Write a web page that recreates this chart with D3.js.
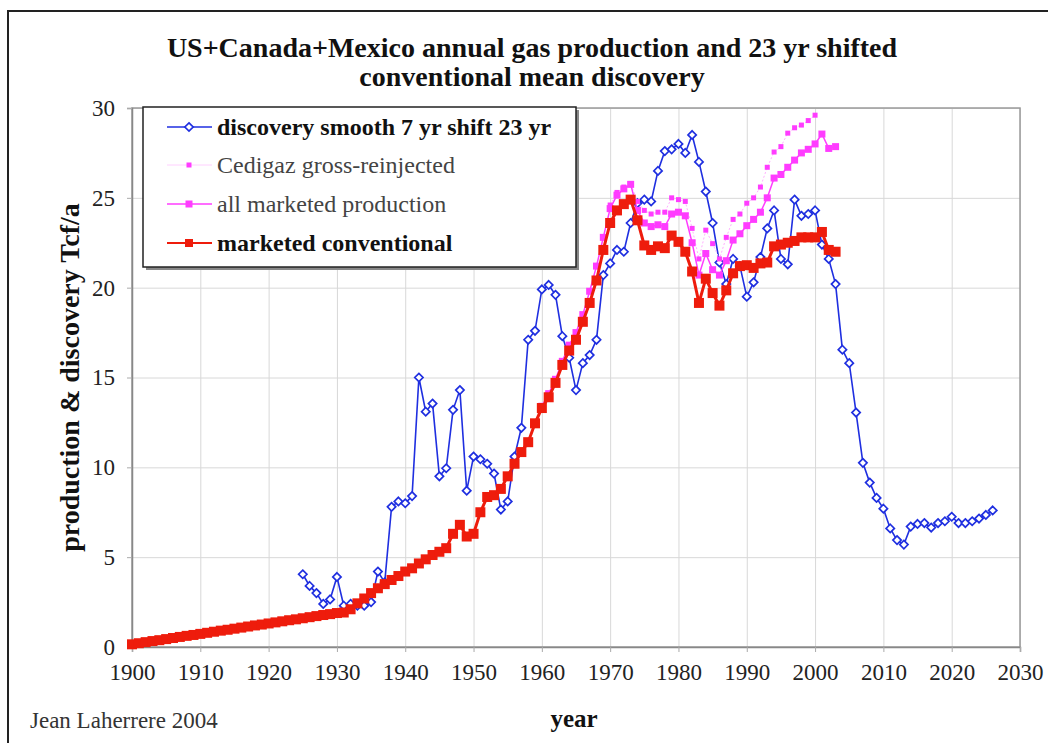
<!DOCTYPE html>
<html><head><meta charset="utf-8">
<script src="https://cdn.jsdelivr.net/npm/d3@7"></script>
<style>
html,body{margin:0;padding:0;background:#fff;}
svg{display:block;font-family:"Liberation Serif","Times New Roman",serif;}
</style></head>
<body><svg id="c" width="1048" height="743"></svg>
<script>
// ---------- data ----------
const xTicks = [1900,1910,1920,1930,1940,1950,1960,1970,1980,1990,2000,2010,2020,2030];
const yTicks = [0,5,10,15,20,25,30];

const discoveryYears = d3.range(1925, 2027);
const discovery = [4.05,3.4,3.0,2.4,2.65,3.9,2.3,2.4,2.3,2.3,2.5,4.2,3.6,7.8,8.1,8.0,8.4,15.0,13.1,13.55,
  9.5,9.95,13.2,14.3,8.7,10.6,10.45,10.2,9.65,7.65,8.1,10.6,12.2,17.1,17.6,19.9,20.15,19.6,17.3,16.1,
  14.3,15.8,16.25,17.1,20.7,21.35,22.1,22.0,23.6,24.7,24.9,24.8,26.5,27.6,27.7,28.0,27.5,28.5,27.0,25.35,
  23.6,21.4,20.2,21.6,21.2,19.5,20.3,21.7,23.3,24.3,21.6,21.3,24.9,24.0,24.1,24.3,22.4,21.6,20.2,16.55,
  15.8,13.05,10.25,9.15,8.3,7.7,6.6,5.95,5.7,6.7,6.85,6.9,6.65,6.9,7.0,7.25,6.9,6.9,7.0,7.15,
  7.35,7.6];

const cedigazYears = d3.range(1970, 2001);
const cedigaz = [24.6,25.3,25.6,25.8,24.8,24.3,24.1,24.2,24.2,25.0,24.9,24.8,23.3,21.6,23.2,22.45,21.6,22.8,23.8,24.1,
  24.7,25.0,25.6,26.7,27.55,27.85,28.6,28.9,29.05,29.3,29.6];

const marketedYears = d3.range(1960, 2004);
const marketed = [13.4,14.1,14.9,15.9,16.8,17.5,18.5,19.8,21.2,22.8,24.4,25.15,25.5,25.75,24.3,23.6,23.4,23.5,23.4,24.1,
  24.2,24.0,22.5,20.7,21.9,21.0,20.7,21.5,22.65,23.0,23.45,23.8,24.2,25.0,26.1,26.3,26.7,27.1,27.5,27.7,
  28.0,28.55,27.75,27.85];

const conventionalYears = d3.range(1900, 2004);
const conventional = [0.15,0.21,0.27,0.33,0.38,0.44,0.50,0.56,0.62,0.67,0.73,0.79,0.85,0.91,0.96,1.02,1.08,1.14,1.20,1.25,
  1.31,1.37,1.43,1.49,1.54,1.60,1.66,1.72,1.78,1.83,1.89,1.92,2.1,2.43,2.7,3.0,3.27,3.5,3.73,3.95,
  4.2,4.38,4.65,4.88,5.12,5.3,5.5,6.3,6.8,6.15,6.3,7.5,8.35,8.45,8.8,9.5,10.2,10.85,11.4,12.45,
  13.3,13.9,14.7,15.7,16.5,17.1,18.1,19.15,20.4,22.1,23.6,24.3,24.65,24.9,23.75,22.35,22.1,22.3,22.2,22.9,
  22.55,22.0,20.9,19.15,20.5,19.7,19.0,19.85,20.8,21.2,21.25,21.1,21.35,21.4,22.3,22.4,22.5,22.6,22.8,22.8,
  22.8,23.1,22.1,22.0];

const legendLabels = ["discovery smooth 7 yr shift 23 yr","Cedigaz gross-reinjected","all marketed production","marketed conventional"];

// ---------- drawing ----------
const svg = d3.select("#c");
const W = 1048, H = 743;
const m = {l:132, r:1020, t:108, b:647};
const x = d3.scaleLinear().domain([1900,2030]).range([m.l, m.r]);
const y = d3.scaleLinear().domain([0,30]).range([m.b, m.t]);

const BLUE = "#1f2fe0", PINK = "#ff3cff", RED = "#ee1c0c";

// outer frame
svg.append("rect").attr("x",8).attr("y",11).attr("width",W+10).attr("height",H+10)
  .attr("fill","none").attr("stroke","#222").attr("stroke-width",2);

// gridlines
const g = svg.append("g");
g.append("g").attr("transform",`translate(0,${m.b})`)
  .call(d3.axisBottom(x).tickValues(xTicks).tickSize(-(m.b-m.t)).tickFormat(""))
  .call(s=>{s.select(".domain").remove(); s.selectAll("line").attr("stroke","#d8d8d8").attr("stroke-width",1);});
g.append("g").attr("transform",`translate(${m.l},0)`)
  .call(d3.axisLeft(y).tickValues(yTicks).tickSize(-(m.r-m.l)).tickFormat(""))
  .call(s=>{s.select(".domain").remove(); s.selectAll("line").attr("stroke","#d8d8d8").attr("stroke-width",1);});

// plot border
svg.append("rect").attr("x",m.l).attr("y",m.t).attr("width",m.r-m.l).attr("height",m.b-m.t)
  .attr("fill","none").attr("stroke","#9a9a9a").attr("stroke-width",1.5);

// axes labels
const xa = svg.append("g").attr("transform",`translate(0,${m.b})`)
  .call(d3.axisBottom(x).tickValues(xTicks).tickSize(5).tickPadding(12).tickFormat(d3.format("d")));
xa.select(".domain").attr("stroke","#888").attr("stroke-width",1.5);
xa.selectAll("line").attr("stroke","#aaa");
xa.selectAll("text").attr("font-family","Liberation Serif").attr("font-size",23).attr("fill","#222");

const ya = svg.append("g").attr("transform",`translate(${m.l},0)`)
  .call(d3.axisLeft(y).tickValues(yTicks).tickSize(5).tickPadding(12));
ya.select(".domain").attr("stroke","#888").attr("stroke-width",1.5);
ya.selectAll("line").attr("stroke","#aaa");
ya.selectAll("text").attr("font-family","Liberation Serif").attr("font-size",23).attr("fill","#222");

// series
function pts(years, vals){ return years.map((yr,i)=>[yr, vals[i]]); }
const line = d3.line().x(d=>x(d[0])).y(d=>y(d[1]));

const disc = pts(discoveryYears, discovery);
const ced = pts(cedigazYears, cedigaz);
const mkt = pts(marketedYears, marketed);
const conv = pts(conventionalYears, conventional);

// discovery
svg.append("path").datum(disc).attr("d",line).attr("fill","none").attr("stroke",BLUE).attr("stroke-width",1.6);
svg.append("g").selectAll("path").data(disc).join("path")
  .attr("d", d3.symbol(d3.symbolDiamond2, 44))
  .attr("transform", d=>`translate(${x(d[0])},${y(d[1])})`)
  .attr("fill","#fff").attr("stroke",BLUE).attr("stroke-width",1.7);

// cedigaz
svg.append("path").datum(ced).attr("d",line).attr("fill","none").attr("stroke","#ffb0ff").attr("stroke-width",1).attr("stroke-dasharray","2,2");
svg.append("g").selectAll("rect").data(ced).join("rect")
  .attr("x",d=>x(d[0])-2.5).attr("y",d=>y(d[1])-2.5).attr("width",5).attr("height",5).attr("fill",PINK);

// all marketed
svg.append("path").datum(mkt).attr("d",line).attr("fill","none").attr("stroke",PINK).attr("stroke-width",1.5);
svg.append("g").selectAll("rect").data(mkt).join("rect")
  .attr("x",d=>x(d[0])-3.5).attr("y",d=>y(d[1])-3.5).attr("width",7).attr("height",7).attr("fill",PINK);

// marketed conventional
svg.append("path").datum(conv).attr("d",line).attr("fill","none").attr("stroke",RED).attr("stroke-width",3);
svg.append("g").selectAll("rect").data(conv).join("rect")
  .attr("x",d=>x(d[0])-5).attr("y",d=>y(d[1])-5).attr("width",10).attr("height",10).attr("fill",RED);

// legend
const L = {x:143, y:107, w:433, h:160};
svg.append("rect").attr("x",L.x+3).attr("y",L.y+3).attr("width",L.w).attr("height",L.h).attr("fill","#888");
svg.append("rect").attr("x",L.x).attr("y",L.y).attr("width",L.w).attr("height",L.h)
  .attr("fill","#fff").attr("stroke","#222").attr("stroke-width",1.5);
const ly = [127,165,204,243];
const lg = svg.append("g");
legendLabels.forEach((lab,i)=>{
  const yy = ly[i];
  if(i===0){
    lg.append("line").attr("x1",167).attr("x2",212).attr("y1",yy).attr("y2",yy).attr("stroke",BLUE).attr("stroke-width",1.6);
    lg.append("path").attr("d",d3.symbol(d3.symbolDiamond2,44)).attr("transform",`translate(189,${yy})`)
      .attr("fill","#fff").attr("stroke",BLUE).attr("stroke-width",1.7);
  } else if(i===1){
    lg.append("line").attr("x1",167).attr("x2",212).attr("y1",yy).attr("y2",yy).attr("stroke","#ffd0ff").attr("stroke-width",1);
    lg.append("rect").attr("x",186.5).attr("y",yy-2.5).attr("width",5).attr("height",5).attr("fill",PINK);
  } else if(i===2){
    lg.append("line").attr("x1",167).attr("x2",212).attr("y1",yy).attr("y2",yy).attr("stroke",PINK).attr("stroke-width",1.5);
    lg.append("rect").attr("x",185.5).attr("y",yy-3.5).attr("width",7).attr("height",7).attr("fill",PINK);
  } else {
    lg.append("line").attr("x1",167).attr("x2",212).attr("y1",yy).attr("y2",yy).attr("stroke",RED).attr("stroke-width",2);
    lg.append("rect").attr("x",185).attr("y",yy-4).attr("width",8).attr("height",8).attr("fill",RED);
  }
  lg.append("text").attr("x",217).attr("y",yy).attr("dy","0.35em")
    .attr("font-size",24).attr("font-weight",(i===0||i===3)?"bold":"normal")
    .attr("fill",(i===0||i===3)?"#111":"#444").text(lab);
});

// titles
svg.append("text").attr("x",532).attr("y",57).attr("text-anchor","middle")
  .attr("font-size",28).attr("font-weight","bold").attr("fill","#111")
  .text("US+Canada+Mexico annual gas production and 23 yr shifted");
svg.append("text").attr("x",532).attr("y",86).attr("text-anchor","middle")
  .attr("font-size",28).attr("font-weight","bold").attr("fill","#111")
  .text("conventional mean discovery");

svg.append("text").attr("transform",`translate(79,${(m.t+m.b)/2}) rotate(-90)`).attr("text-anchor","middle")
  .attr("font-size",28).attr("font-weight","bold").attr("fill","#111")
  .text("production & discovery Tcf/a");
svg.append("text").attr("x",574).attr("y",727).attr("text-anchor","middle")
  .attr("font-size",25).attr("font-weight","bold").attr("fill","#111").text("year");
svg.append("text").attr("x",30).attr("y",728)
  .attr("font-size",23).attr("fill","#333").text("Jean Laherrere 2004");
</script></body></html>
